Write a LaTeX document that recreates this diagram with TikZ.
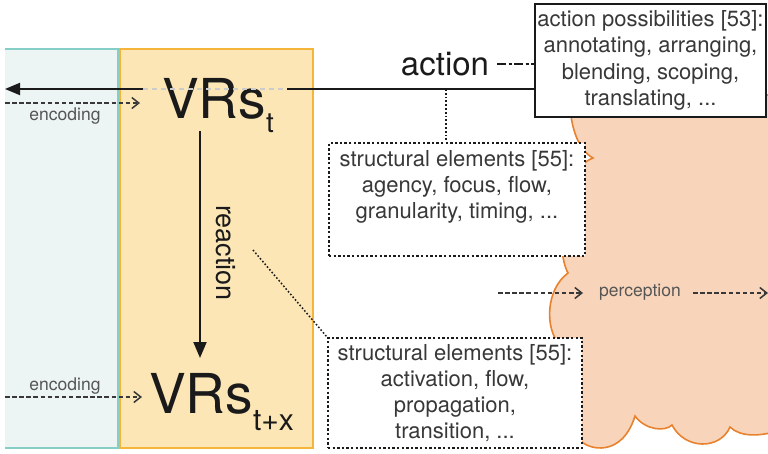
\documentclass[tikz,border=0pt]{standalone}
\usepackage{fontspec}
\setmainfont{TeX Gyre Heros}
\usetikzlibrary{arrows.meta}
\definecolor{bluefill}{HTML}{EDF4F4}
\definecolor{blueline}{HTML}{84CEC6}
\definecolor{orfill}{HTML}{FCE6B6}
\definecolor{orline}{HTML}{F5B43A}
\definecolor{cloudfill}{HTML}{F8D5BA}
\definecolor{cloudline}{HTML}{E8822E}
\definecolor{textgray}{HTML}{383838}
\definecolor{labelgray}{HTML}{555555}
\definecolor{inkc}{HTML}{1A1A1A}
\begin{document}
\begin{tikzpicture}[x=1pt,y=-1pt,
  boxtext/.style={align=center, inner sep=0pt, text=textgray, font=\fontsize{22}{26}\selectfont},
  dotbox/.style={draw=inkc, fill=white, line width=2pt, dash pattern=on 2.4pt off 2.2pt, inner sep=0pt},
  solidbox/.style={draw=inkc, fill=white, line width=1.8pt, inner sep=1pt},
  smalllabel/.style={text=labelgray, inner sep=0pt, font=\fontsize{17.5}{17.5}\selectfont},
  bigvr/.style={anchor=base west, inner sep=0pt, text=inkc, font=\fontsize{55}{55}\selectfont},
  dashedarrow/.style={draw=textgray, line width=1.6pt, dash pattern=on 4.5pt off 2.6pt, -{Straight Barb[length=7pt,width=11pt,line width=1.5pt]}},
  mainline/.style={draw=inkc, line width=1.9pt},
  dotline/.style={draw=inkc, line width=1.9pt, dash pattern=on 1.8pt off 2pt},
]
\useasboundingbox (0,0) rectangle (768,453);
\clip (0,0) rectangle (768,453);

% cloud (perception side)
\draw[cloudline, fill=cloudfill, line width=1.6pt]
  (780,95) -- (570,95)
  .. controls (569,125) and (578,150) .. (593,158)
  .. controls (560,170) and (555,250) .. (568,273)
  .. controls (545,290) and (545,330) .. (560,345)
  .. controls (540,380) and (545,440) .. (580,440)
  .. controls (588,450) and (622,458) .. (635,416)
  .. controls (645,430) and (665,432) .. (672,425)
  .. controls (685,450) and (720,450) .. (730,427)
  .. controls (740,437) and (760,437) .. (780,430)
  -- cycle;

% panels
\fill[bluefill] (5,49) rectangle (118,448);
\draw[blueline, line width=2pt] (5,49) -- (118,49) -- (118,448) -- (5,448);
\draw[orline, fill=orfill, line width=2pt] (119.5,49) rectangle (313,448);

% boxes
\node[solidbox, minimum width=231pt, minimum height=113pt, align=center, text=textgray,
      font=\fontsize{22}{26.5}\selectfont] (apbox) at (650.5,60.5)
  {action possibilities [53]:\\annotating, arranging,\\blending, scoping,\\translating, ...};
\node[dotbox, minimum width=256pt, minimum height=113pt] (se1) at (457,199.5) {};
\node[boxtext, anchor=north] (se1t) at (457,150) {structural elements [55]:\\agency, focus, flow,\\granularity, timing, ...};
\node[dotbox, minimum width=254pt, minimum height=110pt, boxtext, dash pattern=on 2.4pt off 2.2pt] (se2) at (455,393)
  {structural elements [55]:\\activation, flow,\\propagation,\\transition, ...};

% VR nodes and labels
\node[bigvr] (vrt) at (162,118) {VRs\raisebox{-14pt}{\fontsize{28}{28}\selectfont t}};
\node[bigvr] (vrx) at (149,413) {VRs\raisebox{-17pt}{\fontsize{30}{30}\selectfont t+x}};
\node[anchor=base, inner sep=0pt, text=inkc, font=\fontsize{33}{33}\selectfont] (act) at (445,75) {action};
\node[rotate=-90, inner sep=0pt, text=inkc, font=\fontsize{27}{27}\selectfont] (react) at (226,253) {reaction};
\node[smalllabel] (enc1) at (65,116) {encoding};
\node[smalllabel] (enc2) at (65,386) {encoding};
\node[smalllabel] (perc) at (640,292) {perception};

% coordinates
\coordinate (m0) at (5,89);
\coordinate (m1) at (143,89);
\coordinate (m2) at (287,89);
\coordinate (d0) at (446,89);
\coordinate (a0) at (497,64);
\coordinate (r0) at (200,131);
\coordinate (r1) at (200,358);
\coordinate (q0) at (253,250);
\coordinate (e1a) at (5,103);
\coordinate (e1b) at (140,103);
\coordinate (e2a) at (5,397);
\coordinate (e2b) at (142,397);
\coordinate (p0) at (498,293);
\coordinate (p1) at (583,293);
\coordinate (p2) at (693,293);
\coordinate (p3) at (768,293);

% connectors
\draw[mainline, -{Triangle[length=15pt,width=12pt]}] (m1) -- (m0);
\draw[gray!40, line width=1.2pt, dash pattern=on 5pt off 4pt] (m1) -- (m2);
\draw[mainline] (m2) -- (m2 -| apbox.west);
\draw[dotline] (d0) -- (d0 |- se1.north);
\draw[draw=inkc, line width=1.8pt, dash pattern=on 9pt off 2.5pt on 3pt off 2.5pt] (a0) -- (a0 -| apbox.west);
\draw[mainline, -{Triangle[length=16pt,width=13pt]}] (r0) -- (r1);
\draw[draw=inkc, line width=1.5pt, dash pattern=on 1.6pt off 2pt] (q0) -- (se2.north west);
\draw[dashedarrow] (e1a) -- (e1b);
\draw[dashedarrow] (e2a) -- (e2b);
\draw[dashedarrow, line width=1.8pt] (p0) -- (p1);
\draw[dashedarrow, line width=1.8pt] (p2) -- (p3);
\end{tikzpicture}
\end{document}
